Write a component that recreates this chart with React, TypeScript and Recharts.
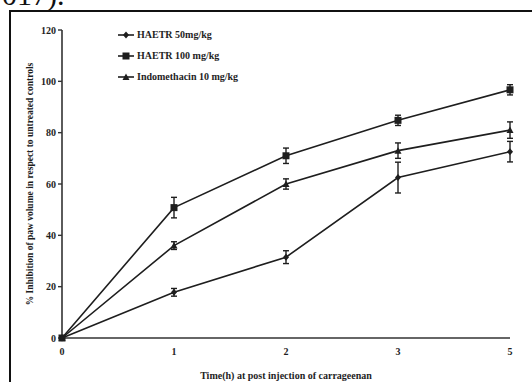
import { LineChart, Line, XAxis, YAxis, ErrorBar, Label } from "recharts";

const hours = ["0", "1", "2", "3", "5"];
const haetr50 = [0, 17.8, 31.5, 62.5, 72.6];
const haetr50Err = [0, 1.5, 2.5, 6, 4];
const haetr100 = [0, 50.8, 71, 84.8, 96.7];
const haetr100Err = [0, 4, 3, 2, 2];
const indo = [0, 36, 60, 73, 81];
const indoErr = [0, 1.5, 2, 3, 3.2];
const yTicks = [0, 20, 40, 60, 80, 100, 120];

const seriesNames = ["HAETR 50mg/kg", "HAETR 100 mg/kg", "Indomethacin 10 mg/kg"];

const data = hours.map((h, i) => ({
  hour: h,
  s50: haetr50[i],
  s50e: haetr50Err[i],
  s100: haetr100[i],
  s100e: haetr100Err[i],
  indo: indo[i],
  indoe: indoErr[i],
}));

const INK = "#1e1e1e";
const FONT = "'Liberation Serif', 'DejaVu Serif', serif";

function Marker({ kind, cx, cy }: { kind: string; cx: number; cy: number }) {
  if (kind === "diamond")
    return <path d={`M${cx},${cy - 3.5}L${cx + 3},${cy}L${cx},${cy + 3.5}L${cx - 3},${cy}Z`} fill={INK} />;
  if (kind === "square") return <rect x={cx - 3.5} y={cy - 3.5} width={7} height={7} fill={INK} />;
  return <path d={`M${cx},${cy - 3.5}L${cx + 3.5},${cy + 3}L${cx - 3.5},${cy + 3}Z`} fill={INK} />;
}

const kinds = ["diamond", "square", "triangle"];

function dotFor(kind: string) {
  return (p: any) => <Marker key={`${kind}-${p.index}`} kind={kind} cx={p.cx} cy={p.cy} />;
}

// legend sits inside the plot, so it's drawn outside recharts' layout
function LegendBox() {
  return (
    <div
      style={{
        position: "absolute",
        left: 118,
        top: 24,
        fontFamily: FONT,
        fontWeight: 700,
        fontSize: 10,
        color: INK,
      }}
    >
      {seriesNames.map((n, i) => (
        <div key={n} style={{ display: "flex", alignItems: "center", height: 21 }}>
          <svg width={17} height={10}>
            <line x1={0} y1={5} x2={16} y2={5} stroke={INK} strokeWidth={1.6} />
            <Marker kind={kinds[i]} cx={8} cy={5} />
          </svg>
          <span style={{ marginLeft: 2 }}>{n}</span>
        </div>
      ))}
    </div>
  );
}

const tickStyle = { fontFamily: FONT, fontWeight: 700, fontSize: 10, fill: INK };

export default function App() {
  return (
    <div style={{ position: "absolute", left: 0, top: 0, width: 532, height: 382, background: "#fff", overflow: "hidden" }}>
      <div
        style={{
          position: "absolute",
          left: 2,
          top: -20,
          fontFamily: FONT,
          fontSize: 30,
          lineHeight: "30px",
          color: "#111",
        }}
      >
        017).
      </div>
      <div
        style={{
          position: "absolute",
          left: 9,
          top: 10,
          width: 540,
          height: 400,
          borderTop: "2px solid #111",
          borderLeft: "2px solid #111",
        }}
      />
      <div style={{ position: "absolute", left: 0, top: 0 }}>
        <LineChart width={532} height={382} data={data} margin={{ top: 30, right: 22, bottom: 0, left: 20 }}>
          <XAxis
            dataKey="hour"
            height={44}
            tickLine={false}
            axisLine={{ stroke: "#333", strokeWidth: 1.6 }}
            tick={tickStyle}
            tickMargin={4}
          >
            <Label
              value="Time(h) at post injection of carrageenan"
              position="insideBottom"
              offset={3}
              style={{ fontFamily: FONT, fontWeight: 700, fontSize: 10, fill: INK }}
            />
          </XAxis>
          <YAxis
            width={42}
            domain={[0, 120]}
            ticks={yTicks}
            interval={0}
            tickSize={4}
            tickLine={{ stroke: "#333", strokeWidth: 1.4 }}
            axisLine={{ stroke: "#333", strokeWidth: 1.6 }}
            tick={tickStyle}
          >
            <Label
              content={(p: any) => {
                const vb = p.viewBox;
                const cx = vb.x + 10;
                const cy = vb.y + vb.height / 2;
                return (
                  <text
                    x={cx}
                    y={cy}
                    transform={`rotate(-90 ${cx} ${cy})`}
                    textAnchor="middle"
                    dominantBaseline="central"
                    style={{ fontFamily: FONT, fontWeight: 700, fontSize: 9.5, fill: INK }}
                  >
                    % Inhibition of paw volume in respect to untreated controls
                  </text>
                );
              }}
            />
          </YAxis>
          <Line
            dataKey="s50"
            name={seriesNames[0]}
            stroke={INK}
            strokeWidth={1.6}
            dot={dotFor("diamond")}
            isAnimationActive={false}
          >
            <ErrorBar dataKey="s50e" width={3} stroke={INK} strokeWidth={1.4} isAnimationActive={false} />
          </Line>
          <Line
            dataKey="s100"
            name={seriesNames[1]}
            stroke={INK}
            strokeWidth={1.6}
            dot={dotFor("square")}
            isAnimationActive={false}
          >
            <ErrorBar dataKey="s100e" width={3} stroke={INK} strokeWidth={1.4} isAnimationActive={false} />
          </Line>
          <Line
            dataKey="indo"
            name={seriesNames[2]}
            stroke={INK}
            strokeWidth={1.6}
            dot={dotFor("triangle")}
            isAnimationActive={false}
          >
            <ErrorBar dataKey="indoe" width={3} stroke={INK} strokeWidth={1.4} isAnimationActive={false} />
          </Line>
        </LineChart>
      </div>
      <LegendBox />
    </div>
  );
}
